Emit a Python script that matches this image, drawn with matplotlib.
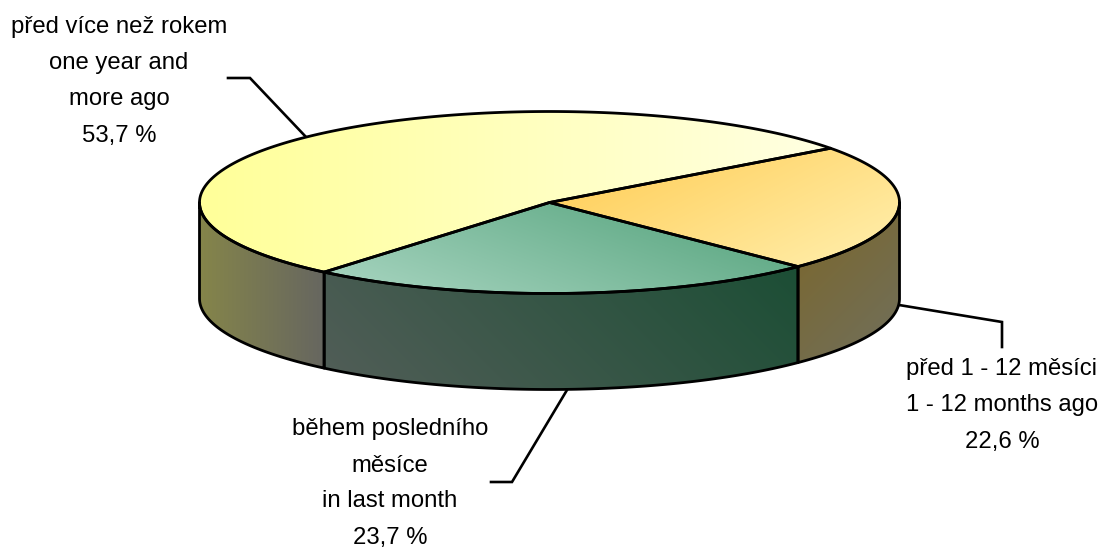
import numpy as np
import matplotlib
matplotlib.use("Agg")
import matplotlib.pyplot as plt
from matplotlib.patches import PathPatch
from matplotlib.path import Path
from matplotlib.colors import to_rgb

# Data
categories = ["před 1 - 12 měsíci", "během posledního měsíce", "před více než rokem"]
values = [22.6, 23.7, 53.7]
labels = [
    "před 1 - 12 měsíci\n1 - 12 months ago\n22,6 %",
    "během posledního\nměsíce\nin last month\n23,7 %",
    "před více než rokem\none year and\nmore ago\n53,7 %",
]
start_angle = 36.6

# Styles: (start colour, end colour, gradient direction in pixels, y down)
top_styles = [
    ("#FFCB50", "#FFF0B0", (0.45, 0.9)),
    ("#4FA078", "#AAD6C2", (-0.35, 0.95)),
    ("#FFFF99", "#FFFFE2", (1, 0)),
]
side_styles = [
    ("#7C6628", "#70705E", (0.7, 0.7)),
    ("#1C4E35", "#525E58", (-0.7, 0.7)),
    ("#85854A", "#666660", (1, 0)),
]
cx, cy, rx, ry, depth = 549.5, 202.5, 350, 91, 96

plt.rcParams["font.family"] = ["Liberation Sans", "DejaVu Sans"]
fig = plt.figure(figsize=(11.01, 5.49), dpi=100)
ax = fig.add_axes([0, 0, 1, 1])
ax.set_axis_off()


def pt(theta, dy=0):
    t = np.radians(theta)
    return cx + rx * np.cos(t), cy - ry * np.sin(t) + dy


def gradient_fill(verts, c0, c1, d):
    verts = np.asarray(verts)
    path = Path(np.vstack([verts, verts[0]]), closed=True)
    x0, y0 = verts.min(0)
    x1, y1 = verts.max(0)
    xx, yy = np.meshgrid(np.linspace(x0, x1, 300), np.linspace(y0, y1, 300))
    p = xx * d[0] + yy * d[1]
    p = (p - p.min()) / (p.max() - p.min())
    a, b = np.array(to_rgb(c0)), np.array(to_rgb(c1))
    img = a[None, None, :] + (b - a)[None, None, :] * p[..., None]
    im = ax.imshow(img, extent=(x0, x1, y1, y0), origin="upper", aspect="auto",
                   interpolation="bilinear", zorder=2)
    patch = PathPatch(path, fc="none", ec="none", transform=ax.transData)
    ax.add_patch(patch)
    im.set_clip_path(patch)
    ax.add_patch(PathPatch(path, fc="none", ec="black", lw=2.0, joinstyle="round", zorder=3))


edges = start_angle - np.cumsum([0] + values) * 3.6

# Front walls: only the part of each slice inside the front half (-180..0 deg) shows
for v0, v1, (c0, c1, d) in zip(edges[:-1], edges[1:], side_styles):
    lo, hi = max(v1, -180), min(v0, 0)
    th = np.linspace(lo, hi, 120)
    gradient_fill([pt(t) for t in th] + [pt(t, depth) for t in th[::-1]], c0, c1, d)

# Top faces
for v0, v1, (c0, c1, d) in zip(edges[:-1], edges[1:], top_styles):
    th = np.linspace(v0, v1, 240)
    gradient_fill([(cx, cy)] + [pt(t) for t in th], c0, c1, d)

# Leader lines
leaders = [
    ([899, 1002, 1002], [305, 322, 347]),
    ([567, 512, 491], [390, 482, 482]),
    ([228, 250, 306], [78, 78, 137]),
]
for lx, ly in leaders:
    ax.plot(lx, ly, color="black", lw=1.9, zorder=1, solid_joinstyle="miter")

# Labels, one text per line
positions = [(1002, [369, 405, 442]), (390, [429, 466, 501, 538]), (119, [27, 63, 99, 136])]
for text, (x, ys) in zip(labels, positions):
    for line, y in zip(text.split("\n"), ys):
        ax.text(x, y, line, ha="center", va="center", fontsize=17.2, color="black", zorder=4)

ax.set_xlim(0, 1101)
ax.set_ylim(549, 0)
fig.savefig("out.png", dpi=100, facecolor="white")
